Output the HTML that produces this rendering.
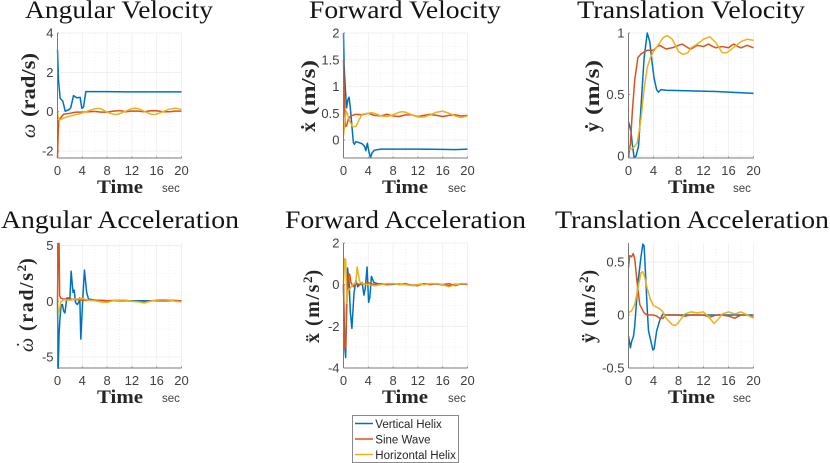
<!DOCTYPE html>
<html lang="en">
<head>
<meta charset="utf-8">
<title>Velocity and Acceleration Responses</title>
<style>
html,body{margin:0;padding:0;background:#fff;width:830px;height:463px;overflow:hidden}
svg{display:block}
.title{font-family:"Liberation Serif",serif;font-size:25px;fill:#141414}
.xlabel{font-family:"Liberation Serif",serif;font-size:19px;font-weight:bold;fill:#262626}
.ylabel{font-family:"Liberation Serif","DejaVu Serif",serif;font-size:20px;font-weight:bold;fill:#262626}
.wide{letter-spacing:1.6px}
.unit{font-family:"Liberation Sans",sans-serif;font-size:11.5px;fill:#404040}
.tick{font-family:"Liberation Sans",sans-serif;font-size:13px;fill:#404040}
.leg{font-family:"Liberation Sans",sans-serif;font-size:11.5px;fill:#262626}
</style>
</head>
<body>
<svg id="figure" xmlns="http://www.w3.org/2000/svg" width="830" height="463" viewBox="0 0 830 463">
<g>
<text class="title" x="25" y="18" textLength="188" lengthAdjust="spacingAndGlyphs">Angular Velocity</text>
<text class="title" x="309" y="18" textLength="192" lengthAdjust="spacingAndGlyphs">Forward Velocity</text>
<text class="title" x="577" y="18" textLength="228" lengthAdjust="spacingAndGlyphs">Translation Velocity</text>
<text class="title" x="1" y="228" textLength="238" lengthAdjust="spacingAndGlyphs">Angular Acceleration</text>
<text class="title" x="285" y="228" textLength="241" lengthAdjust="spacingAndGlyphs">Forward Acceleration</text>
<text class="title" x="555" y="228" textLength="274" lengthAdjust="spacingAndGlyphs">Translation Acceleration</text>
</g>
<g>
<text class="ylabel" transform="translate(35,138) rotate(-90)"><tspan x="0" font-style="italic" font-weight="normal">ω</tspan><tspan x="21" textLength="64" lengthAdjust="spacingAndGlyphs">(rad/s)</tspan></text>
<text class="ylabel" transform="translate(315,132) rotate(-90)"><tspan x="0">ẋ</tspan><tspan x="17" textLength="55" lengthAdjust="spacingAndGlyphs">(m/s)</tspan></text>
<text class="ylabel" transform="translate(599,132) rotate(-90)"><tspan x="0">ẏ</tspan><tspan x="17" textLength="55" lengthAdjust="spacingAndGlyphs">(m/s)</tspan></text>
<text class="ylabel" transform="translate(33,352) rotate(-90)"><tspan x="0" font-style="italic" font-weight="normal">ω</tspan><tspan x="4" y="-3" font-weight="normal">˙</tspan><tspan class="wide" x="21" y="0">(rad/s</tspan><tspan dy="-7" font-size="13">2</tspan><tspan dy="7">)</tspan></text>
<text class="ylabel" transform="translate(319,343) rotate(-90)"><tspan x="0">ẍ</tspan><tspan class="wide" x="17">(m/s</tspan><tspan dy="-7" font-size="13">2</tspan><tspan dy="7">)</tspan></text>
<text class="ylabel" transform="translate(595,343) rotate(-90)"><tspan x="0">ÿ</tspan><tspan class="wide" x="17">(m/s</tspan><tspan dy="-7" font-size="13">2</tspan><tspan dy="7">)</tspan></text>
</g>
<g>
<text class="xlabel" x="97" y="193" textLength="46" lengthAdjust="spacingAndGlyphs">Time</text>
<text class="xlabel" x="382" y="193" textLength="46" lengthAdjust="spacingAndGlyphs">Time</text>
<text class="xlabel" x="668" y="193" textLength="47" lengthAdjust="spacingAndGlyphs">Time</text>
<text class="xlabel" x="97" y="403" textLength="46" lengthAdjust="spacingAndGlyphs">Time</text>
<text class="xlabel" x="382" y="403" textLength="46" lengthAdjust="spacingAndGlyphs">Time</text>
<text class="xlabel" x="668" y="403" textLength="47" lengthAdjust="spacingAndGlyphs">Time</text>
<text class="unit" x="162" y="192">sec</text>
<text class="unit" x="448" y="192">sec</text>
<text class="unit" x="733" y="192">sec</text>
<text class="unit" x="162" y="402">sec</text>
<text class="unit" x="448" y="402">sec</text>
<text class="unit" x="733" y="402">sec</text>
</g>
<g id="panels"></g>
<g>
<rect x="352.5" y="415.5" width="106" height="47" fill="#fff" stroke="#8a8a8a" stroke-width="1"/>
<line x1="355" x2="373" y1="423.5" y2="423.5" stroke="#0072BD" stroke-width="1.5"/>
<text class="leg" x="375.3" y="428">Vertical Helix</text>
<line x1="355" x2="373" y1="439" y2="439" stroke="#D95319" stroke-width="1.5"/>
<text class="leg" x="375.3" y="443.5">Sine Wave</text>
<line x1="355" x2="373" y1="454.5" y2="454.5" stroke="#EDB120" stroke-width="1.5"/>
<text class="leg" x="375.3" y="459">Horizontal Helix</text>
</g>
</svg>
<script>
// Shared x axis
const timeTicks = [0, 4, 8, 12, 16, 20];
const timeLimits = [0, 20];

// Angular velocity
const avTicks = [4, 2, 0, -2];
const avLimits = [-2.35, 4];
const avVerticalT = [0,.16,.43,.86,1.24,1.94,2.15,2.58,3.1,3.65,3.92,4.2,4.57,8,12,16,20];
const avVerticalV = [3.15,1.6,.68,.54,.03,.12,.22,.82,.71,.73,.17,.25,1.02,1.02,1.01,1.01,1.01];
const avSineT = [0,.1,.2,.4,1,2,3,4,5,6,7,8,9,10,11,12,13,14,15,16,17,18,19,20];
const avSineV = [-2.35,-1.2,-.45,-.35,-.12,-.08,-.02,-.02,0,.02,-.02,-.02,.03,.06,0,.04,.03,0,.05,.05,0,0,.03,.03];
const avHorizT = [0,.1,.3,1,2,3,4,5,6,6.5,7,8,9,9.5,10,11,12,12.5,13,14,15,15.5,16,17,18,19,20];
const avHorizV = [0,-.3,-.42,-.32,-.22,-.15,-.06,.05,.15,.17,.15,-.02,-.13,-.14,-.1,.03,.16,.18,.16,.02,-.12,-.15,-.12,0,.13,.18,.12];

// Forward velocity
const fvTicks = [2, 1.5, 1, 0.5, 0];
const fvLimits = [-0.336, 2];
const fvVerticalT = [0,.1,.3,.5,.7,.9,1.1,1.4,1.6,1.75,2,2.5,3,3.4,3.6,3.85,4.1,4.35,4.6,5,6,8,12,16,18,20];
const fvVerticalV = [2,1.4,.95,.6,.75,.8,.6,.2,-.05,-.08,-.03,-.05,-.07,-.12,-.2,-.06,-.22,-.33,-.24,-.19,-.17,-.17,-.17,-.175,-.18,-.17];
const fvSineT = [0,.1,.3,.5,.8,1.2,2,3,4,5,6,7,8,9,10,11,12,13,14,15,16,17,18,19,20];
const fvSineV = [1.5,.9,.25,.27,.4,.45,.48,.47,.5,.46,.45,.48,.45,.44,.47,.47,.44,.46,.48,.46,.44,.46,.47,.45,.46];
const fvHorizT = [0,.2,.4,.6,1,1.5,2,2.4,3,4,4.5,5,6,7,8,9,9.5,10,11,12,13,14,15,16,17,18,19,20];
const fvHorizV = [.08,.3,.55,.5,.35,.25,.25,.35,.48,.5,.51,.5,.45,.44,.47,.52,.53,.52,.47,.43,.43,.47,.52,.54,.5,.45,.42,.45];

// Translation velocity
const tvTicks = [1, 0.5, 0];
const tvLimits = [-0.015, 1];
const tvVerticalT = [0,.4,.6,.9,1.2,1.6,2,2.5,3,3.4,3.8,4.1,4.5,4.8,5.2,6,10,14,18,20];
const tvVerticalV = [.28,.2,.1,-.01,0,.08,.4,.8,1,.93,.75,.63,.54,.52,.54,.535,.53,.525,.515,.51];
const tvSineT = [0,.3,.6,1,1.5,2,3,4,4.6,5,6,7,8,8.6,9.5,10,11,12,12.8,13.5,14,15,16,16.8,17.5,18,19,20];
const tvSineV = [-.01,.1,.35,.62,.8,.83,.86,.86,.89,.9,.87,.88,.9,.91,.88,.87,.9,.89,.91,.89,.88,.89,.88,.91,.89,.88,.9,.88];
const tvHorizT = [0,.5,1,1.4,2,2.5,3,3.5,4,5,5.5,6.2,7,8,8.7,9.5,10,11,12,13,14,15,15.7,16,17,18,19,20];
const tvHorizV = [.05,.06,.08,.11,.3,.55,.72,.8,.85,.92,.96,.98,.95,.85,.825,.84,.88,.91,.95,.97,.92,.84,.84,.85,.89,.93,.95,.94];

// Angular acceleration
const aaTicks = [5, 0, -5];
const aaLimits = [-6, 5.24];
const aaVerticalT = [0,.12,.25,.4,.6,.8,1,1.2,1.5,1.8,2,2.2,2.5,2.7,2.9,3.2,3.5,3.6,3.76,4.1,4.35,4.7,5,6,8,12,16,20];
const aaVerticalV = [0,-6.1,-3,-1.5,-.3,-.3,-.9,-1.05,.3,.3,.2,2.7,.8,1,-.1,-.3,0,.3,-3.4,.5,2.8,.8,.2,.1,.05,.05,.05,.05];
const aaSineT = [0,.1,.25,.35,.5,1,2,4,6,8,10,12,14,16,18,20];
const aaSineV = [0,5.2,5.2,.5,.3,.2,.2,.1,.1,.05,.1,0,-.05,.1,.1,.05];
const aaHorizT = [0,.15,.3,.5,1,2,3,4,5,6,7,8,9,10,11,12,13,14,15,16,17,18,19,20];
const aaHorizV = [0,-1,-.9,-.1,.15,.1,.2,.25,.1,.05,-.05,-.1,.05,.1,.1,0,-.05,-.15,0,.1,.15,.1,0,-.05];

// Forward acceleration
const faTicks = [2, 0, -2, -4];
const faLimits = [-4, 2];
const faVerticalT = [0,.2,.35,.5,.65,.9,1.1,1.35,1.7,2,2.3,2.6,3,3.3,3.5,3.8,4.05,4.25,4.5,4.9,5.5,7,9,11,13,15,17,18,20];
const faVerticalV = [0,-3,-3.5,-1,.8,.1,-1.3,-2.1,-.4,.2,-.1,0,.1,-.5,-.2,.85,-.85,-.6,.4,.1,.05,0,.03,-.03,.03,.03,-.06,.02,.03];
const faSineT = [0,.15,.35,.5,.8,1,1.2,1.6,2,3,4,5,6,7,8,9,10,11,12,13,14,15,16,17,18,19,20];
const faSineV = [0,-3.1,-3,-1,.5,.5,.1,-.1,.05,0,.1,0,.05,0,.05,0,.05,-.03,-.05,.05,0,.05,0,.05,-.05,.05,0];
const faHorizT = [0,.2,.35,.55,.7,1,1.5,2,2.2,2.6,3,4,5,6,7,8,9,10,11,12,13,14,15,16,17,18,19,20];
const faHorizV = [0,1.25,1.2,-.9,-.3,-.2,0,.1,.85,.15,.05,0,-.05,0,.05,.05,0,0,-.05,0,0,.05,.05,0,-.1,0,.05,.05];

// Translation acceleration
const taTicks = [0.5, 0, -0.5];
const taLimits = [-0.5, 0.68];
const taVerticalT = [0,.3,.5,.8,1,1.5,2,2.3,2.5,2.8,3,3.2,3.4,3.9,4.1,4.5,5,5.5,6,8,12,16,20];
const taVerticalV = [-.2,-.31,-.25,-.2,-.1,.3,.55,.67,.65,.3,.05,-.15,-.2,-.33,-.32,-.15,-.05,.01,0,0,0,0,0];
const taSineT = [0,.2,.5,.75,1,1.3,1.8,2.5,3,4,4.5,5,5.5,6,8,9,10,12,13,14,15,16,17,18,19,20];
const taSineV = [.45,.56,.55,.58,.53,.35,.1,.02,0,0,-.01,-.03,-.03,0,0,-.01,0,0,-.02,0,0,-.01,-.03,0,0,-.02];
const taHorizT = [0,.5,1,1.5,2,2.3,2.7,3,3.5,4,5,5.5,6,7,7.5,8,9,10,11,12,13,13.7,14.5,15,16,17,18,19,20];
const taHorizV = [.02,.04,.1,.25,.4,.41,.33,.25,.15,.09,.06,.03,-.03,-.09,-.1,-.07,.01,.03,.02,.03,-.03,-.08,-.03,.01,.03,.01,.03,0,-.03];

const SVG_NS = 'http://www.w3.org/2000/svg';
const LINE_COLORS = { vertical: '#0072BD', sine: '#D95319', horizontal: '#EDB120' };

function scaleLinear(domain, range) {
  return v => range[0] + (v - domain[0]) * (range[1] - range[0]) / (domain[1] - domain[0]);
}
function make(tag, attrs, parent) {
  const el = document.createElementNS(SVG_NS, tag);
  for (const k in attrs) el.setAttribute(k, attrs[k]);
  parent.appendChild(el);
  return el;
}

function drawPanel(p) {
  const root = document.getElementById('panels');
  const g = make('g', {}, root);
  
  
  const x = scaleLinear(timeLimits, [p.left, p.right]);
  const y = scaleLinear(p.yLimits, [p.bottom, p.top]);

  // grid
  const gridGroup = make('g', { stroke: '#ececec', 'stroke-width': 0.8 }, g);
  
  
  for (let t = timeLimits[0] + 2; t <= timeLimits[1]; t += 2) {
    const major = timeTicks.includes(t);
    make('line', { x1: x(t), x2: x(t), y1: p.top, y2: p.bottom, 'stroke-dasharray': major ? 'none' : '1 2' }, gridGroup);
  }
  const first = Math.ceil(p.yLimits[0] / p.gridStep) * p.gridStep;
  for (let v = first; v <= p.yLimits[1] + 1e-9; v += p.gridStep) {
    const major = p.yTicks.some(k => Math.abs(k - v) < 1e-6);
    make('line', { x1: p.left, x2: p.right, y1: y(v), y2: y(v), 'stroke-dasharray': major ? 'none' : '1 2' }, gridGroup);
  }

  // clip
  const clipId = 'clip-' + p.key;
  const clip = make('clipPath', { id: clipId }, g);
  make('rect', { x: p.left - 1, y: p.top - 1, width: p.right - p.left + 2, height: p.bottom - p.top + 2 }, clip);

  // series
  p.series.forEach(s => {
    const d = s.t.map((t, i) => (i ? 'L' : 'M') + x(t).toFixed(2) + ' ' + y(s.v[i]).toFixed(2)).join('');
    const path = make('path', { d: d, fill: 'none', stroke: LINE_COLORS[s.id], 'stroke-width': 1.5, 'stroke-linejoin': 'round', 'clip-path': 'url(#' + clipId + ')' }, g);
    
    
  });

  // axes lines
  const xAxis = make('line', { x1: p.left, x2: p.right, y1: p.bottom, y2: p.bottom, stroke: '#7a7a7a', 'stroke-width': 1 }, g);
  
  
  const yAxis = make('line', { x1: p.left, x2: p.left, y1: p.top, y2: p.bottom, stroke: '#7a7a7a', 'stroke-width': 1 }, g);
  
  

  // x ticks
  timeTicks.forEach(t => {
    make('line', { x1: x(t), x2: x(t), y1: p.bottom, y2: p.bottom - 1.5, stroke: '#7a7a7a', 'stroke-width': 0.8 }, g);
    const label = make('text', { class: 'tick', x: x(t), y: p.bottom + 17, 'text-anchor': 'middle' }, g);
    label.textContent = String(t);
    
    
  });
  // y ticks
  p.yTicks.forEach(v => {
    make('line', { x1: p.left, x2: p.left + 1.5, y1: y(v), y2: y(v), stroke: '#7a7a7a', 'stroke-width': 0.8 }, g);
    const label = make('text', { class: 'tick', x: p.left - 4, y: y(v) + 4.5, 'text-anchor': 'end' }, g);
    label.textContent = String(v);
    
    
  });
}

drawPanel({ key: 'angular-velocity', left: 57.5, right: 181.5, top: 33, bottom: 158, yLimits: avLimits, yTicks: avTicks, gridStep: 1,
  series: [{ id: 'vertical', t: avVerticalT, v: avVerticalV }, { id: 'sine', t: avSineT, v: avSineV }, { id: 'horizontal', t: avHorizT, v: avHorizV }] });
drawPanel({ key: 'forward-velocity', left: 343.5, right: 467.5, top: 33, bottom: 158, yLimits: fvLimits, yTicks: fvTicks, gridStep: 0.25,
  series: [{ id: 'vertical', t: fvVerticalT, v: fvVerticalV }, { id: 'sine', t: fvSineT, v: fvSineV }, { id: 'horizontal', t: fvHorizT, v: fvHorizV }] });
drawPanel({ key: 'translation-velocity', left: 628.5, right: 753.5, top: 33, bottom: 158, yLimits: tvLimits, yTicks: tvTicks, gridStep: 0.2,
  series: [{ id: 'vertical', t: tvVerticalT, v: tvVerticalV }, { id: 'sine', t: tvSineT, v: tvSineV }, { id: 'horizontal', t: tvHorizT, v: tvHorizV }] });
drawPanel({ key: 'angular-acceleration', left: 57.5, right: 181.5, top: 243, bottom: 368, yLimits: aaLimits, yTicks: aaTicks, gridStep: 2.5,
  series: [{ id: 'vertical', t: aaVerticalT, v: aaVerticalV }, { id: 'sine', t: aaSineT, v: aaSineV }, { id: 'horizontal', t: aaHorizT, v: aaHorizV }] });
drawPanel({ key: 'forward-acceleration', left: 343.5, right: 467.5, top: 243, bottom: 368, yLimits: faLimits, yTicks: faTicks, gridStep: 1,
  series: [{ id: 'vertical', t: faVerticalT, v: faVerticalV }, { id: 'sine', t: faSineT, v: faSineV }, { id: 'horizontal', t: faHorizT, v: faHorizV }] });
drawPanel({ key: 'translation-acceleration', left: 628.5, right: 753.5, top: 243, bottom: 368, yLimits: taLimits, yTicks: taTicks, gridStep: 0.25,
  series: [{ id: 'vertical', t: taVerticalT, v: taVerticalV }, { id: 'sine', t: taSineT, v: taSineV }, { id: 'horizontal', t: taHorizT, v: taHorizV }] });
</script>
</body>
</html>
